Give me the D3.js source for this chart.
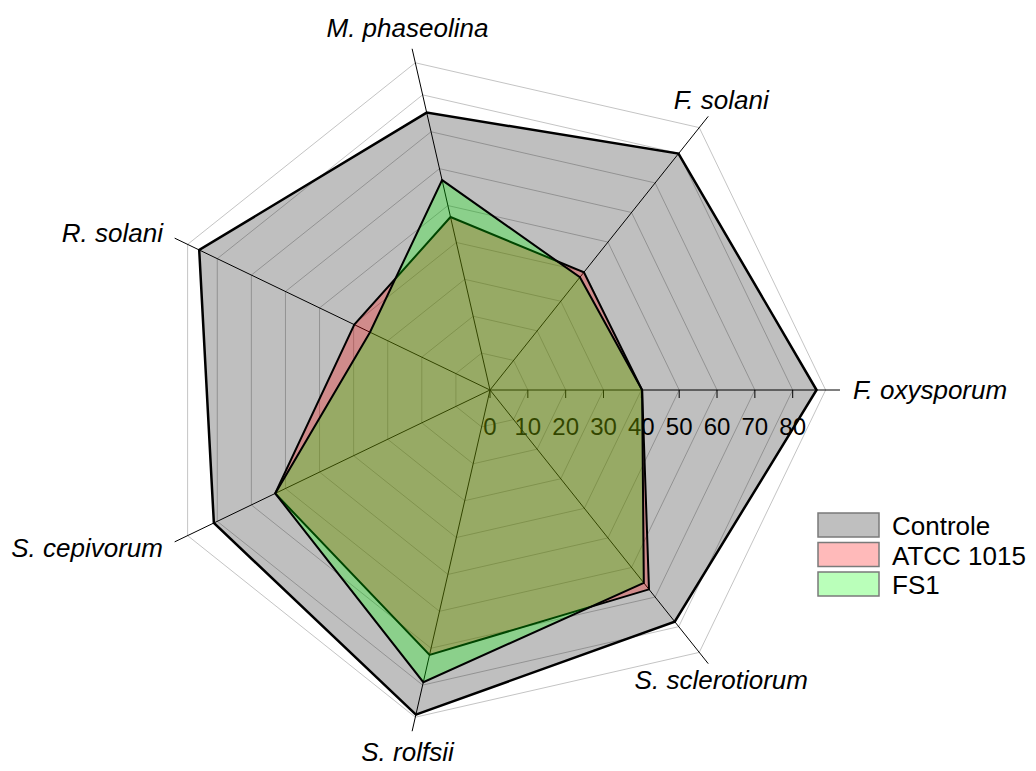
<!DOCTYPE html>
<html lang="en">
<head>
<meta charset="UTF-8">
<title>Radar - Controle / ATCC 1015 / FS1</title>
<script src="https://cdn.jsdelivr.net/npm/d3@7"></script>
<style>
  body { margin: 0; background: #fff; }
  svg text { font-family: Arial, "Liberation Sans", sans-serif; }
</style>
</head>
<body>
<div id="chart"></div>
<script>
// values
var categories = ["F. oxysporum", "F. solani", "M. phaseolina", "R. solani", "S. cepivorum", "S. rolfsii", "S. sclerotiorum"];
var controle = [86.3, 79.9, 75.2, 85.3, 81.0, 88.0, 78.3];
var atcc1015 = [40.2, 39.8, 46.9, 39.8, 63.0, 71.8, 67.4];
var fs1      = [40.2, 38.1, 56.9, 35.2, 63.0, 79.2, 65.2];
var seriesNames = ["Controle", "ATCC 1015", "FS1"];
var tickValues = [0, 10, 20, 30, 40, 50, 60, 70, 80];
var gridLevels = [10, 20, 30, 40, 50, 60, 70, 80, 88.7];   // last one is the outer edge

const w = 1036;
const h = 771;
const cx = 490, cy = 390;

var series = [controle, atcc1015, fs1];
var fills = ["rgba(0,0,0,0.25)", "rgba(255,0,0,0.27)", "rgba(0,255,0,0.27)"];
var strokeW = [2.5, 2, 2];

var r = d3.scaleLinear().domain([0, 80]).range([0, 302.7]);
var axisEnd = 92.5;

// angle of each spoke, counter-clockwise from the right (radial angle for d3 = from 12 o'clock)
var angle = d3.scalePoint().domain(categories).range([0, 2 * Math.PI * 6 / 7]);
function radialAngle(c) { return Math.PI / 2 - angle(c); }

var svg = d3.select("#chart").append("svg")
    .attr("width", w)
    .attr("height", h);

var g = svg.append("g").attr("transform", "translate(" + cx + "," + cy + ")");

var ring = d3.lineRadial()
    .angle(function(d) { return radialAngle(d[0]); })
    .radius(function(d) { return r(d[1]); })
    .curve(d3.curveLinearClosed);

// grid rings
g.append("g").selectAll("path")
  .data(gridLevels)
  .enter()
  .append("path")
    .attr("d", function(lv) { return ring(categories.map(function(c) { return [c, lv]; })); })
    .attr("fill", "none")
    .attr("stroke", "#c4c4c4")
    .attr("stroke-width", 1);

// spokes
g.append("g").selectAll("line")
  .data(categories)
  .enter()
  .append("line")
    .attr("x1", 0).attr("y1", 0)
    .attr("x2", function(c) { return r(axisEnd) * Math.cos(angle(c)); })
    .attr("y2", function(c) { return -r(axisEnd) * Math.sin(angle(c)); })
    .attr("stroke", "#000")
    .attr("stroke-width", 1);

// radial axis ticks + labels along the first spoke (they sit under the fills)
var ticks = g.append("g");
ticks.selectAll("line")
  .data(tickValues)
  .enter()
  .append("line")
    .attr("x1", function(d) { return r(d); })
    .attr("x2", function(d) { return r(d); })
    .attr("y1", 0).attr("y2", 8)
    .attr("stroke", "#000");
ticks.selectAll("text")
  .data(tickValues)
  .enter()
  .append("text")
    .attr("x", function(d) { return r(d); })
    .attr("y", 45)
    .attr("text-anchor", "middle")
    .style("font-size", "24px")
    .attr("fill", "#000")
    .text(function(d) { return d; });

// data polygons
g.append("g").selectAll("path")
  .data(series)
  .enter()
  .append("path")
    .attr("d", function(vals) { return ring(categories.map(function(c, i) { return [c, vals[i]]; })); })
    .attr("fill", function(d, i) { return fills[i]; })
    .attr("stroke", "#000")
    .attr("stroke-width", function(d, i) { return strokeW[i]; })
    .attr("stroke-linejoin", "miter");

// category labels
g.append("g").selectAll("text")
  .data(categories)
  .enter()
  .append("text")
    .attr("text-anchor", function(c) {
      var co = Math.cos(angle(c));
      return co > 0.7 ? "start" : (co < -0.7 ? "end" : "middle");
    })
    .attr("x", function(c) {
      var co = Math.cos(angle(c));
      var rad = Math.abs(co) > 0.7 ? 363 : 371;
      return rad * co;
    })
    .attr("y", function(c) {
      var co = Math.cos(angle(c));
      var rad = Math.abs(co) > 0.7 ? 363 : 371;
      return -rad * Math.sin(angle(c));
    })
    .attr("dy", "0.35em")
    .style("font-size", "26px")
    .style("font-style", "italic")
    .attr("fill", "#000")
    .text(function(c) { return c; });

// legend
var legend = svg.append("g").attr("transform", "translate(818,513)");
var item = legend.selectAll("g")
  .data(seriesNames)
  .enter()
  .append("g")
    .attr("transform", function(d, i) { return "translate(0," + (i * 29.5) + ")"; });
item.append("rect")
    .attr("width", 61).attr("height", 24)
    .attr("fill", function(d, i) { return fills[i]; })
    .attr("stroke", "#7a7a7a")
    .attr("stroke-width", 1.5);
item.append("text")
    .attr("x", 74)
    .attr("y", 22)
    .style("font-size", "26px")
    .attr("fill", "#000")
    .text(function(d) { return d; });
</script>
</body>
</html>
